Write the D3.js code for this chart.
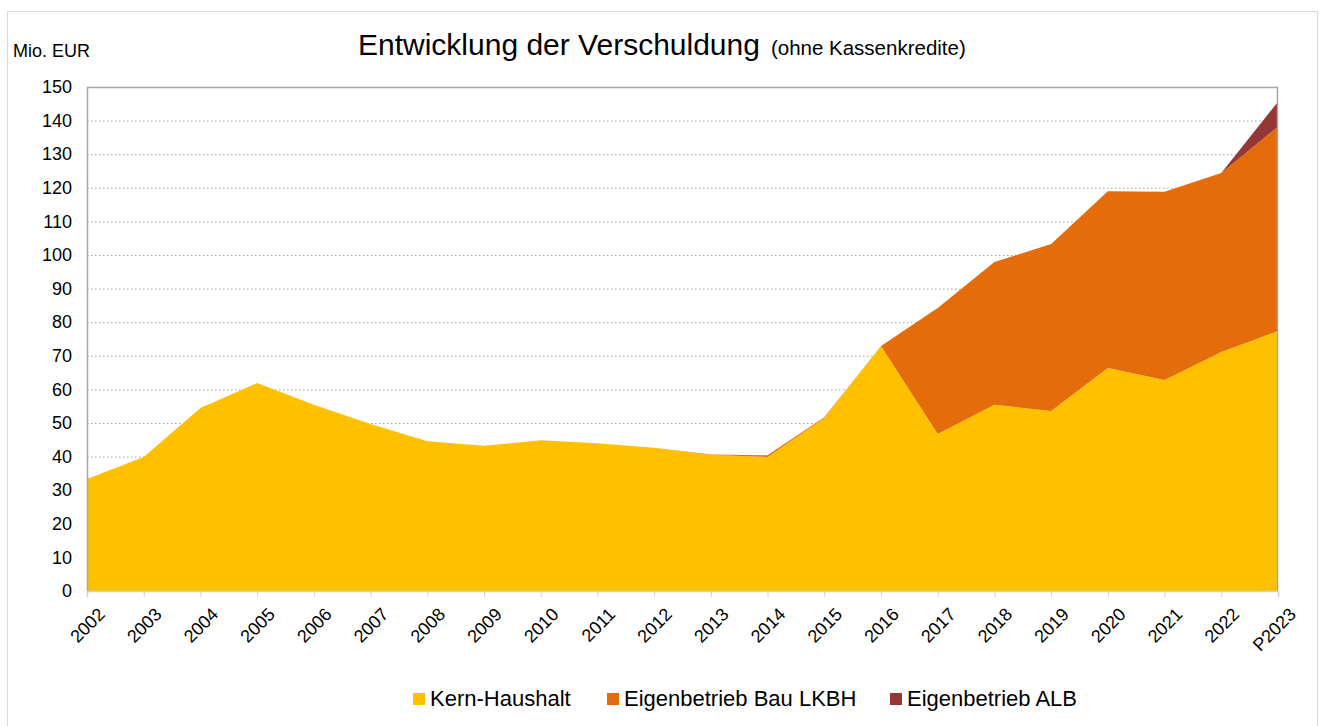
<!DOCTYPE html>
<html>
<head>
<meta charset="utf-8">
<script src="https://cdn.jsdelivr.net/npm/d3@7"></script>
<style>
  body { margin: 0; background: #fff; }
  svg { font-family: "Liberation Sans", Arial, sans-serif; }
  .grid line { stroke: #a0a0a0; stroke-dasharray: 1.5 2.5; }
  .axis text { font-size: 18px; fill: #000; }
</style>
</head>
<body>
<svg width="1320" height="726"></svg>
<script>
var years = ["2002", "2003", "2004", "2005", "2006", "2007", "2008", "2009", "2010", "2011", "2012",
             "2013", "2014", "2015", "2016", "2017", "2018", "2019", "2020", "2021", "2022", "P2023"];
var kern = [33.3, 39.9, 54.5, 61.9, 55.4, 49.7, 44.6, 43.2, 44.9, 44.0, 42.6,
            40.5, 39.9, 51.5, 72.9, 46.7, 55.4, 53.6, 66.4, 62.8, 71.1, 77.4];
var lkbh = [0, 0, 0, 0, 0, 0, 0, 0, 0, 0, 0,
            0.1, 0.5, 0.2, 0, 37.5, 42.5, 49.7, 52.6, 56.0, 53.3, 60.8];
var alb  = [0, 0, 0, 0, 0, 0, 0, 0, 0, 0, 0,
            0, 0, 0, 0, 0, 0, 0, 0, 0, 0, 7.4];
var yTicks = d3.range(0, 151, 10);
var seriesNames = ["Kern-Haushalt", "Eigenbetrieb Bau LKBH", "Eigenbetrieb ALB"];
var colors = ["#ffc000", "#e46c0a", "#953735"];

var svg = d3.select("svg"),
    margin = {top: 87, right: 42, bottom: 135, left: 87},
    width = +svg.attr("width") - margin.left - margin.right,
    height = +svg.attr("height") - margin.top - margin.bottom;

// outer frame
svg.append("rect")
    .attr("x", 7.5).attr("y", 11.5)
    .attr("width", 1310).attr("height", 720)
    .attr("fill", "none").attr("stroke", "#d9d9d9");

var x = d3.scalePoint().domain(years).range([0, width]),
    y = d3.scaleLinear().domain([0, 150]).range([height, 0]);

var chart = svg.append("g")
    .attr("transform", "translate(" + margin.left + "," + margin.top + ")");

// gridlines
chart.append("g")
    .attr("class", "grid")
  .selectAll("line")
    .data(yTicks.filter(function(d) { return d > 0 && d < 150; }))
  .enter().append("line")
    .attr("x1", 0).attr("x2", width)
    .attr("y1", function(d) { return y(d) + 0.5; })
    .attr("y2", function(d) { return y(d) + 0.5; });

// stacked areas
var rows = years.map(function(d, i) {
  return {year: d, k: kern[i], l: lkbh[i], a: alb[i]};
});
var stack = d3.stack().keys(["k", "l", "a"]);
var layers = stack(rows);

var area = d3.area()
    .x(function(d) { return x(d.data.year); })
    .y0(function(d) { return y(d[0]); })
    .y1(function(d) { return y(d[1]); });

chart.selectAll(".layer")
    .data(layers)
  .enter().append("path")
    .attr("class", "layer")
    .attr("fill", function(d, i) { return colors[i]; })
    .attr("d", area);

// plot border
chart.append("path")
    .attr("d", "M0.5," + height + "V0.5H" + (width - 0.5) + "V" + height)
    .attr("fill", "none")
    .attr("stroke", "#a6a6a6")
    .attr("stroke-width", 1.5);

// x-axis
var xAxis = chart.append("g")
    .attr("class", "axis x")
    .attr("transform", "translate(0," + height + ")")
    .call(d3.axisBottom(x).tickSize(6).tickPadding(4));
xAxis.select(".domain").attr("stroke", "#d0d0d0").attr("stroke-width", 1.5);
xAxis.selectAll(".tick line").attr("stroke", "#d0d0d0");
xAxis.selectAll("text")
    .attr("text-anchor", "end")
    .attr("dy", "0.35em")
    .attr("transform", "translate(7,13) rotate(-45)");

// y-axis
var yAxis = chart.append("g")
    .attr("class", "axis y")
    .call(d3.axisLeft(y).tickValues(yTicks).tickSize(0).tickPadding(15));
yAxis.select(".domain").remove();

// axis unit label
svg.append("text")
    .attr("x", 13).attr("y", 57)
    .style("font-size", "18px")
    .text("Mio. EUR");

// title
var title = svg.append("text")
    .attr("x", 358).attr("y", 55);
title.append("tspan")
    .style("font-size", "30px")
    .text("Entwicklung der Verschuldung");
title.append("tspan")
    .attr("dx", 11)
    .style("font-size", "20.5px")
    .text("(ohne Kassenkredite)");

// legend
var legendX = [413, 607, 890];
var legend = svg.selectAll(".legend")
    .data(seriesNames)
  .enter().append("g")
    .attr("class", "legend")
    .attr("transform", function(d, i) { return "translate(" + legendX[i] + ",699)"; });
legend.append("rect")
    .attr("x", 0).attr("y", -6)
    .attr("width", 12).attr("height", 12)
    .attr("fill", function(d, i) { return colors[i]; });
legend.append("text")
    .attr("x", 17).attr("y", 7)
    .style("font-size", "22px")
    .text(function(d) { return d; });
</script>
</body>
</html>
